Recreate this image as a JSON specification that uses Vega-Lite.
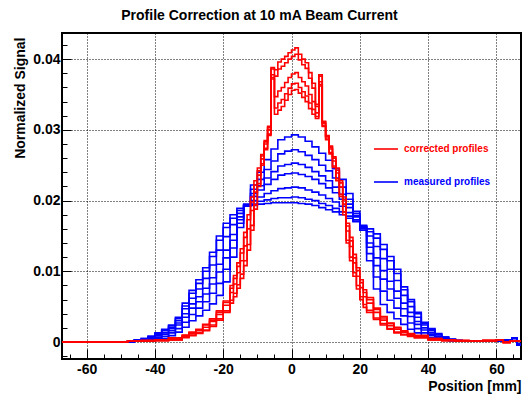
{
"$schema": "https://vega.github.io/schema/vega-lite/v6.json",
"width": 459, "height": 326,
"autosize": {"type": "none"},
"padding": {"left": 62, "top": 33, "right": 10, "bottom": 38},
"background": "white",
"config": {"view": {"stroke": "black", "strokeWidth": 2}, "font": "Liberation Sans"},
"title": {"text": "Profile Correction at 10 mA Beam Current", "font": "Liberation Sans", "fontSize": 14, "fontWeight": "bold", "color": "black", "anchor": "middle", "dx": -32, "dy": 15, "offset": 14, "baseline": "alphabetic"},
"datasets": {
"measured": [
{"s":"b1","x":-67.2,"y":0},{"s":"b1","x":-48,"y":0},{"s":"b1","x":-46,"y":0.0001},{"s":"b1","x":-44,"y":0.0001},{"s":"b1","x":-42,"y":0.0002},{"s":"b1","x":-40,"y":0.0003},{"s":"b1","x":-38,"y":0.0005},{"s":"b1","x":-36,"y":0.0009},{"s":"b1","x":-34,"y":0.0014},{"s":"b1","x":-32,"y":0.0021},{"s":"b1","x":-30,"y":0.003},{"s":"b1","x":-28,"y":0.0037},{"s":"b1","x":-26,"y":0.0045},{"s":"b1","x":-24,"y":0.0054},{"s":"b1","x":-22,"y":0.0066},{"s":"b1","x":-20,"y":0.0085},{"s":"b1","x":-18,"y":0.012},{"s":"b1","x":-16,"y":0.0162},{"s":"b1","x":-14,"y":0.0195},{"s":"b1","x":-12,"y":0.0222},{"s":"b1","x":-10,"y":0.024},{"s":"b1","x":-8,"y":0.0258},{"s":"b1","x":-6,"y":0.0273},{"s":"b1","x":-4,"y":0.0286},{"s":"b1","x":-2,"y":0.029},{"s":"b1","x":0,"y":0.0293},{"s":"b1","x":2,"y":0.029},{"s":"b1","x":4,"y":0.0284},{"s":"b1","x":6,"y":0.0276},{"s":"b1","x":8,"y":0.0267},{"s":"b1","x":10,"y":0.0257},{"s":"b1","x":12,"y":0.0245},{"s":"b1","x":14,"y":0.023},{"s":"b1","x":16,"y":0.021},{"s":"b1","x":18,"y":0.0185},{"s":"b1","x":20,"y":0.0158},{"s":"b1","x":22,"y":0.0115},{"s":"b1","x":24,"y":0.0075},{"s":"b1","x":26,"y":0.0053},{"s":"b1","x":28,"y":0.0042},{"s":"b1","x":30,"y":0.0033},{"s":"b1","x":32,"y":0.0025},{"s":"b1","x":34,"y":0.0018},{"s":"b1","x":36,"y":0.0013},{"s":"b1","x":38,"y":0.0009},{"s":"b1","x":40,"y":0.0006},{"s":"b1","x":42,"y":0.0004},{"s":"b1","x":44,"y":0.0003},{"s":"b1","x":46,"y":0.0002},{"s":"b1","x":48,"y":0.0001},{"s":"b1","x":50,"y":0.0001},{"s":"b1","x":56,"y":0.0001},{"s":"b1","x":60,"y":0.0002},{"s":"b1","x":62,"y":0.0003},{"s":"b1","x":64.5,"y":0.0005},{"s":"b1","x":66,"y":-0.0003},{"s":"b1","x":67.2,"y":-0.0003},
{"s":"b2","x":-67.2,"y":0},{"s":"b2","x":-48,"y":0},{"s":"b2","x":-46,"y":0.0001},{"s":"b2","x":-44,"y":0.0002},{"s":"b2","x":-42,"y":0.0003},{"s":"b2","x":-40,"y":0.0005},{"s":"b2","x":-38,"y":0.0008},{"s":"b2","x":-36,"y":0.0013},{"s":"b2","x":-34,"y":0.0019},{"s":"b2","x":-32,"y":0.0028},{"s":"b2","x":-30,"y":0.0039},{"s":"b2","x":-28,"y":0.0048},{"s":"b2","x":-26,"y":0.0057},{"s":"b2","x":-24,"y":0.0069},{"s":"b2","x":-22,"y":0.0083},{"s":"b2","x":-20,"y":0.0103},{"s":"b2","x":-18,"y":0.0133},{"s":"b2","x":-16,"y":0.0168},{"s":"b2","x":-14,"y":0.0194},{"s":"b2","x":-12,"y":0.0216},{"s":"b2","x":-10,"y":0.023},{"s":"b2","x":-8,"y":0.0244},{"s":"b2","x":-6,"y":0.0256},{"s":"b2","x":-4,"y":0.0266},{"s":"b2","x":-2,"y":0.027},{"s":"b2","x":0,"y":0.0272},{"s":"b2","x":2,"y":0.0269},{"s":"b2","x":4,"y":0.0264},{"s":"b2","x":6,"y":0.0258},{"s":"b2","x":8,"y":0.025},{"s":"b2","x":10,"y":0.0242},{"s":"b2","x":12,"y":0.0232},{"s":"b2","x":14,"y":0.0219},{"s":"b2","x":16,"y":0.0202},{"s":"b2","x":18,"y":0.0182},{"s":"b2","x":20,"y":0.016},{"s":"b2","x":22,"y":0.0125},{"s":"b2","x":24,"y":0.0092},{"s":"b2","x":26,"y":0.0072},{"s":"b2","x":28,"y":0.0059},{"s":"b2","x":30,"y":0.0048},{"s":"b2","x":32,"y":0.0037},{"s":"b2","x":34,"y":0.0027},{"s":"b2","x":36,"y":0.0019},{"s":"b2","x":38,"y":0.0013},{"s":"b2","x":40,"y":0.0009},{"s":"b2","x":42,"y":0.0006},{"s":"b2","x":44,"y":0.0004},{"s":"b2","x":46,"y":0.0002},{"s":"b2","x":48,"y":0.0001},{"s":"b2","x":50,"y":0.0001},{"s":"b2","x":56,"y":0.0001},{"s":"b2","x":60,"y":0.0002},{"s":"b2","x":62,"y":0.0003},{"s":"b2","x":64.5,"y":0.0005},{"s":"b2","x":66,"y":-0.0003},{"s":"b2","x":67.2,"y":-0.0003},
{"s":"b3","x":-67.2,"y":0},{"s":"b3","x":-48,"y":0},{"s":"b3","x":-46,"y":0.0002},{"s":"b3","x":-44,"y":0.0003},{"s":"b3","x":-42,"y":0.0005},{"s":"b3","x":-40,"y":0.0007},{"s":"b3","x":-38,"y":0.0011},{"s":"b3","x":-36,"y":0.0016},{"s":"b3","x":-34,"y":0.0024},{"s":"b3","x":-32,"y":0.0035},{"s":"b3","x":-30,"y":0.0048},{"s":"b3","x":-28,"y":0.0057},{"s":"b3","x":-26,"y":0.0068},{"s":"b3","x":-24,"y":0.0082},{"s":"b3","x":-22,"y":0.0099},{"s":"b3","x":-20,"y":0.0119},{"s":"b3","x":-18,"y":0.0144},{"s":"b3","x":-16,"y":0.0173},{"s":"b3","x":-14,"y":0.0194},{"s":"b3","x":-12,"y":0.021},{"s":"b3","x":-10,"y":0.0221},{"s":"b3","x":-8,"y":0.0232},{"s":"b3","x":-6,"y":0.0241},{"s":"b3","x":-4,"y":0.0249},{"s":"b3","x":-2,"y":0.0251},{"s":"b3","x":0,"y":0.0253},{"s":"b3","x":2,"y":0.0251},{"s":"b3","x":4,"y":0.0247},{"s":"b3","x":6,"y":0.0241},{"s":"b3","x":8,"y":0.0235},{"s":"b3","x":10,"y":0.0228},{"s":"b3","x":12,"y":0.0219},{"s":"b3","x":14,"y":0.0209},{"s":"b3","x":16,"y":0.0195},{"s":"b3","x":18,"y":0.0179},{"s":"b3","x":20,"y":0.0161},{"s":"b3","x":22,"y":0.0134},{"s":"b3","x":24,"y":0.0108},{"s":"b3","x":26,"y":0.0089},{"s":"b3","x":28,"y":0.0075},{"s":"b3","x":30,"y":0.0062},{"s":"b3","x":32,"y":0.0047},{"s":"b3","x":34,"y":0.0036},{"s":"b3","x":36,"y":0.0025},{"s":"b3","x":38,"y":0.0017},{"s":"b3","x":40,"y":0.0011},{"s":"b3","x":42,"y":0.0007},{"s":"b3","x":44,"y":0.0005},{"s":"b3","x":46,"y":0.0003},{"s":"b3","x":48,"y":0.0001},{"s":"b3","x":50,"y":0.0001},{"s":"b3","x":56,"y":0.0001},{"s":"b3","x":60,"y":0.0002},{"s":"b3","x":62,"y":0.0003},{"s":"b3","x":64.5,"y":0.0005},{"s":"b3","x":66,"y":-0.0003},{"s":"b3","x":67.2,"y":-0.0003},
{"s":"b4","x":-67.2,"y":0},{"s":"b4","x":-48,"y":0.0001},{"s":"b4","x":-46,"y":0.0002},{"s":"b4","x":-44,"y":0.0003},{"s":"b4","x":-42,"y":0.0005},{"s":"b4","x":-40,"y":0.0009},{"s":"b4","x":-38,"y":0.0013},{"s":"b4","x":-36,"y":0.0019},{"s":"b4","x":-34,"y":0.0027},{"s":"b4","x":-32,"y":0.004},{"s":"b4","x":-30,"y":0.0054},{"s":"b4","x":-28,"y":0.0064},{"s":"b4","x":-26,"y":0.0076},{"s":"b4","x":-24,"y":0.0091},{"s":"b4","x":-22,"y":0.011},{"s":"b4","x":-20,"y":0.013},{"s":"b4","x":-18,"y":0.0152},{"s":"b4","x":-16,"y":0.0177},{"s":"b4","x":-14,"y":0.0193},{"s":"b4","x":-12,"y":0.0206},{"s":"b4","x":-10,"y":0.0215},{"s":"b4","x":-8,"y":0.0223},{"s":"b4","x":-6,"y":0.023},{"s":"b4","x":-4,"y":0.0236},{"s":"b4","x":-2,"y":0.0238},{"s":"b4","x":0,"y":0.0239},{"s":"b4","x":2,"y":0.0237},{"s":"b4","x":4,"y":0.0234},{"s":"b4","x":6,"y":0.023},{"s":"b4","x":8,"y":0.0224},{"s":"b4","x":10,"y":0.0218},{"s":"b4","x":12,"y":0.0211},{"s":"b4","x":14,"y":0.0202},{"s":"b4","x":16,"y":0.019},{"s":"b4","x":18,"y":0.0177},{"s":"b4","x":20,"y":0.0162},{"s":"b4","x":22,"y":0.014},{"s":"b4","x":24,"y":0.0119},{"s":"b4","x":26,"y":0.0101},{"s":"b4","x":28,"y":0.0086},{"s":"b4","x":30,"y":0.0072},{"s":"b4","x":32,"y":0.0055},{"s":"b4","x":34,"y":0.0042},{"s":"b4","x":36,"y":0.0029},{"s":"b4","x":38,"y":0.002},{"s":"b4","x":40,"y":0.0013},{"s":"b4","x":42,"y":0.0008},{"s":"b4","x":44,"y":0.0005},{"s":"b4","x":46,"y":0.0003},{"s":"b4","x":48,"y":0.0002},{"s":"b4","x":50,"y":0.0001},{"s":"b4","x":56,"y":0.0001},{"s":"b4","x":60,"y":0.0002},{"s":"b4","x":62,"y":0.0003},{"s":"b4","x":64.5,"y":0.0006},{"s":"b4","x":66,"y":-0.0004},{"s":"b4","x":67.2,"y":-0.0004},
{"s":"b5","x":-67.2,"y":0},{"s":"b5","x":-48,"y":0.0001},{"s":"b5","x":-46,"y":0.0003},{"s":"b5","x":-44,"y":0.0004},{"s":"b5","x":-42,"y":0.0007},{"s":"b5","x":-40,"y":0.0011},{"s":"b5","x":-38,"y":0.0016},{"s":"b5","x":-36,"y":0.0021},{"s":"b5","x":-34,"y":0.003},{"s":"b5","x":-32,"y":0.0047},{"s":"b5","x":-30,"y":0.0062},{"s":"b5","x":-28,"y":0.0075},{"s":"b5","x":-26,"y":0.009},{"s":"b5","x":-24,"y":0.0109},{"s":"b5","x":-22,"y":0.013},{"s":"b5","x":-20,"y":0.0149},{"s":"b5","x":-18,"y":0.0166},{"s":"b5","x":-16,"y":0.0182},{"s":"b5","x":-14,"y":0.0193},{"s":"b5","x":-12,"y":0.02},{"s":"b5","x":-10,"y":0.0205},{"s":"b5","x":-8,"y":0.021},{"s":"b5","x":-6,"y":0.0214},{"s":"b5","x":-4,"y":0.0217},{"s":"b5","x":-2,"y":0.0218},{"s":"b5","x":0,"y":0.0219},{"s":"b5","x":2,"y":0.0218},{"s":"b5","x":4,"y":0.0215},{"s":"b5","x":6,"y":0.0212},{"s":"b5","x":8,"y":0.0208},{"s":"b5","x":10,"y":0.0203},{"s":"b5","x":12,"y":0.0198},{"s":"b5","x":14,"y":0.0192},{"s":"b5","x":16,"y":0.0183},{"s":"b5","x":18,"y":0.0173},{"s":"b5","x":20,"y":0.0163},{"s":"b5","x":22,"y":0.015},{"s":"b5","x":24,"y":0.0135},{"s":"b5","x":26,"y":0.0118},{"s":"b5","x":28,"y":0.0103},{"s":"b5","x":30,"y":0.0087},{"s":"b5","x":32,"y":0.0066},{"s":"b5","x":34,"y":0.005},{"s":"b5","x":36,"y":0.0035},{"s":"b5","x":38,"y":0.0024},{"s":"b5","x":40,"y":0.0016},{"s":"b5","x":42,"y":0.001},{"s":"b5","x":44,"y":0.0006},{"s":"b5","x":46,"y":0.0004},{"s":"b5","x":48,"y":0.0002},{"s":"b5","x":50,"y":0.0001},{"s":"b5","x":56,"y":0.0001},{"s":"b5","x":60,"y":0.0002},{"s":"b5","x":62,"y":0.0003},{"s":"b5","x":64.5,"y":0.0006},{"s":"b5","x":66,"y":-0.0004},{"s":"b5","x":67.2,"y":-0.0004},
{"s":"b6","x":-67.2,"y":0},{"s":"b6","x":-48,"y":0.0001},{"s":"b6","x":-46,"y":0.0003},{"s":"b6","x":-44,"y":0.0005},{"s":"b6","x":-42,"y":0.0008},{"s":"b6","x":-40,"y":0.0012},{"s":"b6","x":-38,"y":0.0017},{"s":"b6","x":-36,"y":0.0023},{"s":"b6","x":-34,"y":0.0033},{"s":"b6","x":-32,"y":0.0051},{"s":"b6","x":-30,"y":0.0069},{"s":"b6","x":-28,"y":0.0083},{"s":"b6","x":-26,"y":0.01},{"s":"b6","x":-24,"y":0.0121},{"s":"b6","x":-22,"y":0.0144},{"s":"b6","x":-20,"y":0.0162},{"s":"b6","x":-18,"y":0.0175},{"s":"b6","x":-16,"y":0.0186},{"s":"b6","x":-14,"y":0.0192},{"s":"b6","x":-12,"y":0.0195},{"s":"b6","x":-10,"y":0.0199},{"s":"b6","x":-8,"y":0.0201},{"s":"b6","x":-6,"y":0.0203},{"s":"b6","x":-4,"y":0.0204},{"s":"b6","x":-2,"y":0.0204},{"s":"b6","x":0,"y":0.0205},{"s":"b6","x":2,"y":0.0204},{"s":"b6","x":4,"y":0.0202},{"s":"b6","x":6,"y":0.02},{"s":"b6","x":8,"y":0.0196},{"s":"b6","x":10,"y":0.0193},{"s":"b6","x":12,"y":0.0189},{"s":"b6","x":14,"y":0.0184},{"s":"b6","x":16,"y":0.0178},{"s":"b6","x":18,"y":0.0171},{"s":"b6","x":20,"y":0.0164},{"s":"b6","x":22,"y":0.0156},{"s":"b6","x":24,"y":0.0147},{"s":"b6","x":26,"y":0.0131},{"s":"b6","x":28,"y":0.0115},{"s":"b6","x":30,"y":0.0097},{"s":"b6","x":32,"y":0.0074},{"s":"b6","x":34,"y":0.0057},{"s":"b6","x":36,"y":0.004},{"s":"b6","x":38,"y":0.0026},{"s":"b6","x":40,"y":0.0018},{"s":"b6","x":42,"y":0.0011},{"s":"b6","x":44,"y":0.0007},{"s":"b6","x":46,"y":0.0004},{"s":"b6","x":48,"y":0.0002},{"s":"b6","x":50,"y":0.0001},{"s":"b6","x":56,"y":0.0001},{"s":"b6","x":60,"y":0.0002},{"s":"b6","x":62,"y":0.0003},{"s":"b6","x":64.5,"y":0.0006},{"s":"b6","x":66,"y":-0.0004},{"s":"b6","x":67.2,"y":-0.0004},
{"s":"b7","x":-67.2,"y":0},{"s":"b7","x":-48,"y":0.0001},{"s":"b7","x":-46,"y":0.0003},{"s":"b7","x":-44,"y":0.0005},{"s":"b7","x":-42,"y":0.0008},{"s":"b7","x":-40,"y":0.0013},{"s":"b7","x":-38,"y":0.0018},{"s":"b7","x":-36,"y":0.0024},{"s":"b7","x":-34,"y":0.0035},{"s":"b7","x":-32,"y":0.0055},{"s":"b7","x":-30,"y":0.0073},{"s":"b7","x":-28,"y":0.0088},{"s":"b7","x":-26,"y":0.0105},{"s":"b7","x":-24,"y":0.0127},{"s":"b7","x":-22,"y":0.015},{"s":"b7","x":-20,"y":0.0168},{"s":"b7","x":-18,"y":0.018},{"s":"b7","x":-16,"y":0.0189},{"s":"b7","x":-14,"y":0.0192},{"s":"b7","x":-12,"y":0.0193},{"s":"b7","x":-10,"y":0.0195},{"s":"b7","x":-8,"y":0.0196},{"s":"b7","x":-6,"y":0.0197},{"s":"b7","x":-4,"y":0.0197},{"s":"b7","x":-2,"y":0.0197},{"s":"b7","x":0,"y":0.0197},{"s":"b7","x":2,"y":0.0196},{"s":"b7","x":4,"y":0.0195},{"s":"b7","x":6,"y":0.0193},{"s":"b7","x":8,"y":0.019},{"s":"b7","x":10,"y":0.0187},{"s":"b7","x":12,"y":0.0184},{"s":"b7","x":14,"y":0.018},{"s":"b7","x":16,"y":0.0175},{"s":"b7","x":18,"y":0.017},{"s":"b7","x":20,"y":0.0165},{"s":"b7","x":22,"y":0.016},{"s":"b7","x":24,"y":0.0153},{"s":"b7","x":26,"y":0.0138},{"s":"b7","x":28,"y":0.0121},{"s":"b7","x":30,"y":0.0103},{"s":"b7","x":32,"y":0.0078},{"s":"b7","x":34,"y":0.006},{"s":"b7","x":36,"y":0.0042},{"s":"b7","x":38,"y":0.0028},{"s":"b7","x":40,"y":0.0019},{"s":"b7","x":42,"y":0.0012},{"s":"b7","x":44,"y":0.0007},{"s":"b7","x":46,"y":0.0004},{"s":"b7","x":48,"y":0.0002},{"s":"b7","x":50,"y":0.0001},{"s":"b7","x":56,"y":0.0001},{"s":"b7","x":60,"y":0.0002},{"s":"b7","x":62,"y":0.0003},{"s":"b7","x":64.5,"y":0.0006},{"s":"b7","x":66,"y":-0.0004},{"s":"b7","x":67.2,"y":-0.0004}
],
"corrected": [
{"s":"r1","x":-67.2,"y":0},{"s":"r1","x":-48,"y":0.0001},{"s":"r1","x":-44,"y":0.0001},{"s":"r1","x":-40,"y":0.0002},{"s":"r1","x":-36,"y":0.0003},{"s":"r1","x":-32,"y":0.0006},{"s":"r1","x":-30,"y":0.0009},{"s":"r1","x":-28,"y":0.0012},{"s":"r1","x":-26,"y":0.0016},{"s":"r1","x":-24,"y":0.0022},{"s":"r1","x":-22,"y":0.0031},{"s":"r1","x":-20,"y":0.0042},{"s":"r1","x":-18,"y":0.0055},{"s":"r1","x":-17,"y":0.0064},{"s":"r1","x":-16,"y":0.0076},{"s":"r1","x":-15,"y":0.009},{"s":"r1","x":-14,"y":0.0108},{"s":"r1","x":-13,"y":0.013},{"s":"r1","x":-12,"y":0.0158},{"s":"r1","x":-11,"y":0.0188},{"s":"r1","x":-10,"y":0.022},{"s":"r1","x":-9,"y":0.025},{"s":"r1","x":-8,"y":0.0272},{"s":"r1","x":-7,"y":0.0292},{"s":"r1","x":-6,"y":0.0388},{"s":"r1","x":-5,"y":0.0385},{"s":"r1","x":-4,"y":0.0396},{"s":"r1","x":-3,"y":0.04},{"s":"r1","x":-2,"y":0.0404},{"s":"r1","x":-1,"y":0.0409},{"s":"r1","x":0,"y":0.0413},{"s":"r1","x":1,"y":0.0416},{"s":"r1","x":2,"y":0.0407},{"s":"r1","x":3,"y":0.04},{"s":"r1","x":4,"y":0.0395},{"s":"r1","x":5,"y":0.0381},{"s":"r1","x":6,"y":0.0366},{"s":"r1","x":7,"y":0.0336},{"s":"r1","x":8,"y":0.0378},{"s":"r1","x":9,"y":0.0305},{"s":"r1","x":10,"y":0.0286},{"s":"r1","x":11,"y":0.0266},{"s":"r1","x":12,"y":0.0247},{"s":"r1","x":13,"y":0.0228},{"s":"r1","x":14,"y":0.0206},{"s":"r1","x":15,"y":0.018},{"s":"r1","x":16,"y":0.014},{"s":"r1","x":17,"y":0.0115},{"s":"r1","x":18,"y":0.0093},{"s":"r1","x":19,"y":0.0075},{"s":"r1","x":20,"y":0.006},{"s":"r1","x":21,"y":0.0049},{"s":"r1","x":22,"y":0.0042},{"s":"r1","x":24,"y":0.0032},{"s":"r1","x":26,"y":0.0024},{"s":"r1","x":28,"y":0.0018},{"s":"r1","x":30,"y":0.0013},{"s":"r1","x":32,"y":0.001},{"s":"r1","x":34,"y":0.0008},{"s":"r1","x":36,"y":0.0006},{"s":"r1","x":40,"y":0.0003},{"s":"r1","x":44,"y":0.0002},{"s":"r1","x":48,"y":0.0001},{"s":"r1","x":52,"y":0.0001},{"s":"r1","x":56,"y":0.0002},{"s":"r1","x":60,"y":0.0003},{"s":"r1","x":62,"y":-0.0001},{"s":"r1","x":64,"y":0.0001},{"s":"r1","x":67.2,"y":0.0001},
{"s":"r2","x":-67.2,"y":0},{"s":"r2","x":-48,"y":0.0001},{"s":"r2","x":-44,"y":0.0001},{"s":"r2","x":-40,"y":0.0002},{"s":"r2","x":-36,"y":0.0003},{"s":"r2","x":-32,"y":0.0007},{"s":"r2","x":-30,"y":0.001},{"s":"r2","x":-28,"y":0.0013},{"s":"r2","x":-26,"y":0.0017},{"s":"r2","x":-24,"y":0.0024},{"s":"r2","x":-22,"y":0.0033},{"s":"r2","x":-20,"y":0.0044},{"s":"r2","x":-18,"y":0.0059},{"s":"r2","x":-17,"y":0.0069},{"s":"r2","x":-16,"y":0.0081},{"s":"r2","x":-15,"y":0.0096},{"s":"r2","x":-14,"y":0.0115},{"s":"r2","x":-13,"y":0.0138},{"s":"r2","x":-12,"y":0.0165},{"s":"r2","x":-11,"y":0.0194},{"s":"r2","x":-10,"y":0.0224},{"s":"r2","x":-9,"y":0.0252},{"s":"r2","x":-8,"y":0.0274},{"s":"r2","x":-7,"y":0.0294},{"s":"r2","x":-6,"y":0.0386},{"s":"r2","x":-5,"y":0.0376},{"s":"r2","x":-4,"y":0.0386},{"s":"r2","x":-3,"y":0.039},{"s":"r2","x":-2,"y":0.0395},{"s":"r2","x":-1,"y":0.04},{"s":"r2","x":0,"y":0.0404},{"s":"r2","x":1,"y":0.0407},{"s":"r2","x":2,"y":0.0399},{"s":"r2","x":3,"y":0.0392},{"s":"r2","x":4,"y":0.0387},{"s":"r2","x":5,"y":0.0373},{"s":"r2","x":6,"y":0.0359},{"s":"r2","x":7,"y":0.0333},{"s":"r2","x":8,"y":0.0376},{"s":"r2","x":9,"y":0.0306},{"s":"r2","x":10,"y":0.0287},{"s":"r2","x":11,"y":0.0268},{"s":"r2","x":12,"y":0.0249},{"s":"r2","x":13,"y":0.0231},{"s":"r2","x":14,"y":0.0209},{"s":"r2","x":15,"y":0.0184},{"s":"r2","x":16,"y":0.0144},{"s":"r2","x":17,"y":0.012},{"s":"r2","x":18,"y":0.0098},{"s":"r2","x":19,"y":0.008},{"s":"r2","x":20,"y":0.0064},{"s":"r2","x":21,"y":0.0053},{"s":"r2","x":22,"y":0.0045},{"s":"r2","x":24,"y":0.0034},{"s":"r2","x":26,"y":0.0026},{"s":"r2","x":28,"y":0.0019},{"s":"r2","x":30,"y":0.0014},{"s":"r2","x":32,"y":0.0011},{"s":"r2","x":34,"y":0.0009},{"s":"r2","x":36,"y":0.0006},{"s":"r2","x":40,"y":0.0003},{"s":"r2","x":44,"y":0.0002},{"s":"r2","x":48,"y":0.0001},{"s":"r2","x":52,"y":0.0001},{"s":"r2","x":56,"y":0.0002},{"s":"r2","x":60,"y":0.0003},{"s":"r2","x":62,"y":-0.0001},{"s":"r2","x":64,"y":0.0001},{"s":"r2","x":67.2,"y":0.0001},
{"s":"r3","x":-67.2,"y":0},{"s":"r3","x":-48,"y":0.0001},{"s":"r3","x":-44,"y":0.0002},{"s":"r3","x":-40,"y":0.0003},{"s":"r3","x":-36,"y":0.0005},{"s":"r3","x":-32,"y":0.0008},{"s":"r3","x":-30,"y":0.0012},{"s":"r3","x":-28,"y":0.0016},{"s":"r3","x":-26,"y":0.0021},{"s":"r3","x":-24,"y":0.0029},{"s":"r3","x":-22,"y":0.0039},{"s":"r3","x":-20,"y":0.0052},{"s":"r3","x":-18,"y":0.007},{"s":"r3","x":-17,"y":0.0082},{"s":"r3","x":-16,"y":0.0098},{"s":"r3","x":-15,"y":0.0115},{"s":"r3","x":-14,"y":0.0136},{"s":"r3","x":-13,"y":0.016},{"s":"r3","x":-12,"y":0.0186},{"s":"r3","x":-11,"y":0.0212},{"s":"r3","x":-10,"y":0.0236},{"s":"r3","x":-9,"y":0.0259},{"s":"r3","x":-8,"y":0.028},{"s":"r3","x":-7,"y":0.03},{"s":"r3","x":-6,"y":0.0378},{"s":"r3","x":-5,"y":0.0347},{"s":"r3","x":-4,"y":0.0355},{"s":"r3","x":-3,"y":0.036},{"s":"r3","x":-2,"y":0.0367},{"s":"r3","x":-1,"y":0.0374},{"s":"r3","x":0,"y":0.0379},{"s":"r3","x":1,"y":0.0381},{"s":"r3","x":2,"y":0.0374},{"s":"r3","x":3,"y":0.0368},{"s":"r3","x":4,"y":0.0362},{"s":"r3","x":5,"y":0.035},{"s":"r3","x":6,"y":0.034},{"s":"r3","x":7,"y":0.0324},{"s":"r3","x":8,"y":0.0368},{"s":"r3","x":9,"y":0.0309},{"s":"r3","x":10,"y":0.029},{"s":"r3","x":11,"y":0.0273},{"s":"r3","x":12,"y":0.0256},{"s":"r3","x":13,"y":0.0239},{"s":"r3","x":14,"y":0.0219},{"s":"r3","x":15,"y":0.0195},{"s":"r3","x":16,"y":0.0157},{"s":"r3","x":17,"y":0.0135},{"s":"r3","x":18,"y":0.0112},{"s":"r3","x":19,"y":0.0093},{"s":"r3","x":20,"y":0.0077},{"s":"r3","x":21,"y":0.0064},{"s":"r3","x":22,"y":0.0055},{"s":"r3","x":24,"y":0.0042},{"s":"r3","x":26,"y":0.0031},{"s":"r3","x":28,"y":0.0023},{"s":"r3","x":30,"y":0.0018},{"s":"r3","x":32,"y":0.0014},{"s":"r3","x":34,"y":0.001},{"s":"r3","x":36,"y":0.0008},{"s":"r3","x":40,"y":0.0004},{"s":"r3","x":44,"y":0.0003},{"s":"r3","x":48,"y":0.0002},{"s":"r3","x":52,"y":0.0001},{"s":"r3","x":56,"y":0.0002},{"s":"r3","x":60,"y":0.0003},{"s":"r3","x":62,"y":0},{"s":"r3","x":64,"y":0.0001},{"s":"r3","x":67.2,"y":0.0001},
{"s":"r4","x":-67.2,"y":0},{"s":"r4","x":-48,"y":0.0001},{"s":"r4","x":-44,"y":0.0002},{"s":"r4","x":-40,"y":0.0003},{"s":"r4","x":-36,"y":0.0006},{"s":"r4","x":-32,"y":0.0009},{"s":"r4","x":-30,"y":0.0013},{"s":"r4","x":-28,"y":0.0017},{"s":"r4","x":-26,"y":0.0024},{"s":"r4","x":-24,"y":0.0031},{"s":"r4","x":-22,"y":0.0042},{"s":"r4","x":-20,"y":0.0056},{"s":"r4","x":-18,"y":0.0076},{"s":"r4","x":-17,"y":0.009},{"s":"r4","x":-16,"y":0.0107},{"s":"r4","x":-15,"y":0.0126},{"s":"r4","x":-14,"y":0.0148},{"s":"r4","x":-13,"y":0.0173},{"s":"r4","x":-12,"y":0.0198},{"s":"r4","x":-11,"y":0.0222},{"s":"r4","x":-10,"y":0.0242},{"s":"r4","x":-9,"y":0.0263},{"s":"r4","x":-8,"y":0.0283},{"s":"r4","x":-7,"y":0.0303},{"s":"r4","x":-6,"y":0.0374},{"s":"r4","x":-5,"y":0.0331},{"s":"r4","x":-4,"y":0.0338},{"s":"r4","x":-3,"y":0.0343},{"s":"r4","x":-2,"y":0.0351},{"s":"r4","x":-1,"y":0.0359},{"s":"r4","x":0,"y":0.0365},{"s":"r4","x":1,"y":0.0366},{"s":"r4","x":2,"y":0.036},{"s":"r4","x":3,"y":0.0354},{"s":"r4","x":4,"y":0.0348},{"s":"r4","x":5,"y":0.0338},{"s":"r4","x":6,"y":0.0329},{"s":"r4","x":7,"y":0.0319},{"s":"r4","x":8,"y":0.0364},{"s":"r4","x":9,"y":0.0311},{"s":"r4","x":10,"y":0.0291},{"s":"r4","x":11,"y":0.0275},{"s":"r4","x":12,"y":0.026},{"s":"r4","x":13,"y":0.0243},{"s":"r4","x":14,"y":0.0225},{"s":"r4","x":15,"y":0.0201},{"s":"r4","x":16,"y":0.0164},{"s":"r4","x":17,"y":0.0143},{"s":"r4","x":18,"y":0.0119},{"s":"r4","x":19,"y":0.0101},{"s":"r4","x":20,"y":0.0084},{"s":"r4","x":21,"y":0.007},{"s":"r4","x":22,"y":0.006},{"s":"r4","x":24,"y":0.0046},{"s":"r4","x":26,"y":0.0034},{"s":"r4","x":28,"y":0.0026},{"s":"r4","x":30,"y":0.002},{"s":"r4","x":32,"y":0.0015},{"s":"r4","x":34,"y":0.0011},{"s":"r4","x":36,"y":0.0009},{"s":"r4","x":40,"y":0.0005},{"s":"r4","x":44,"y":0.0003},{"s":"r4","x":48,"y":0.0002},{"s":"r4","x":52,"y":0.0001},{"s":"r4","x":56,"y":0.0002},{"s":"r4","x":60,"y":0.0003},{"s":"r4","x":62,"y":0},{"s":"r4","x":64,"y":0.0001},{"s":"r4","x":67.2,"y":0.0001},
{"s":"r5","x":-67.2,"y":0},{"s":"r5","x":-48,"y":0.0001},{"s":"r5","x":-44,"y":0.0002},{"s":"r5","x":-40,"y":0.0003},{"s":"r5","x":-36,"y":0.0006},{"s":"r5","x":-32,"y":0.001},{"s":"r5","x":-30,"y":0.0014},{"s":"r5","x":-28,"y":0.0018},{"s":"r5","x":-26,"y":0.0025},{"s":"r5","x":-24,"y":0.0033},{"s":"r5","x":-22,"y":0.0044},{"s":"r5","x":-20,"y":0.0058},{"s":"r5","x":-18,"y":0.008},{"s":"r5","x":-17,"y":0.0094},{"s":"r5","x":-16,"y":0.0112},{"s":"r5","x":-15,"y":0.0132},{"s":"r5","x":-14,"y":0.0155},{"s":"r5","x":-13,"y":0.018},{"s":"r5","x":-12,"y":0.0205},{"s":"r5","x":-11,"y":0.0228},{"s":"r5","x":-10,"y":0.0246},{"s":"r5","x":-9,"y":0.0265},{"s":"r5","x":-8,"y":0.0285},{"s":"r5","x":-7,"y":0.0305},{"s":"r5","x":-6,"y":0.0372},{"s":"r5","x":-5,"y":0.0322},{"s":"r5","x":-4,"y":0.0328},{"s":"r5","x":-3,"y":0.0333},{"s":"r5","x":-2,"y":0.0342},{"s":"r5","x":-1,"y":0.035},{"s":"r5","x":0,"y":0.0356},{"s":"r5","x":1,"y":0.0357},{"s":"r5","x":2,"y":0.0352},{"s":"r5","x":3,"y":0.0346},{"s":"r5","x":4,"y":0.034},{"s":"r5","x":5,"y":0.033},{"s":"r5","x":6,"y":0.0322},{"s":"r5","x":7,"y":0.0316},{"s":"r5","x":8,"y":0.0362},{"s":"r5","x":9,"y":0.0312},{"s":"r5","x":10,"y":0.0292},{"s":"r5","x":11,"y":0.0277},{"s":"r5","x":12,"y":0.0262},{"s":"r5","x":13,"y":0.0246},{"s":"r5","x":14,"y":0.0228},{"s":"r5","x":15,"y":0.0205},{"s":"r5","x":16,"y":0.0168},{"s":"r5","x":17,"y":0.0148},{"s":"r5","x":18,"y":0.0124},{"s":"r5","x":19,"y":0.0105},{"s":"r5","x":20,"y":0.0088},{"s":"r5","x":21,"y":0.0074},{"s":"r5","x":22,"y":0.0063},{"s":"r5","x":24,"y":0.0048},{"s":"r5","x":26,"y":0.0036},{"s":"r5","x":28,"y":0.0027},{"s":"r5","x":30,"y":0.0021},{"s":"r5","x":32,"y":0.0016},{"s":"r5","x":34,"y":0.0012},{"s":"r5","x":36,"y":0.0009},{"s":"r5","x":40,"y":0.0005},{"s":"r5","x":44,"y":0.0003},{"s":"r5","x":48,"y":0.0002},{"s":"r5","x":52,"y":0.0001},{"s":"r5","x":56,"y":0.0002},{"s":"r5","x":60,"y":0.0003},{"s":"r5","x":62,"y":0},{"s":"r5","x":64,"y":0.0001},{"s":"r5","x":67.2,"y":0.0001}
]
},
"layer": [
{
"data": {"name": "measured"},
"mark": {"type": "line", "interpolate": "step-after", "strokeWidth": 1.6},
"encoding": {
"x": {"field": "x", "type": "quantitative", "scale": {"domain": [-67.2, 67.2], "nice": false, "zero": false},
 "axis": {"values": [-65,-60,-55,-50,-45,-40,-35,-30,-25,-20,-15,-10,-5,0,5,10,15,20,25,30,35,40,45,50,55,60,65], "tickCount": 200,
  "title": "Position [mm]", "titleAnchor": "end", "titleAlign": "right", "titleX": 459, "titleY": 31, "titleBaseline": "alphabetic",
  "titleFont": "Liberation Sans", "titleFontSize": 14, "titleFontWeight": "bold", "titleColor": "black",
  "labelExpr": "datum.value % 20 === 0 ? '' + datum.value : ''",
  "labelFont": "Liberation Sans", "labelFontSize": 14, "labelFontWeight": "bold", "labelColor": "black",
  "labelPadding": 13, "labelBaseline": "top", "labelFlush": false, "labelOverlap": false,
  "domain": false, "ticks": true, "tickColor": "black", "tickWidth": 1,
  "tickSize": {"condition": {"test": "datum.value % 20 === 0", "value": -10}, "value": -5},
  "grid": true, "gridColor": "black", "gridDash": [1, 2], "gridWidth": 1,
  "gridOpacity": {"condition": {"test": "datum.value % 20 === 0", "value": 1}, "value": 0}}},
"y": {"field": "y", "type": "quantitative", "scale": {"domain": [-0.0024, 0.0437], "nice": false, "zero": false},
 "axis": {"values": [-0.002,0,0.002,0.004,0.006,0.008,0.01,0.012,0.014,0.016,0.018,0.02,0.022,0.024,0.026,0.028,0.03,0.032,0.034,0.036,0.038,0.04,0.042], "tickCount": 200,
  "title": "Normalized Signal", "titleAngle": -90, "titleAlign": "right", "titleX": -38, "titleY": 4, "titleBaseline": "alphabetic",
  "titleFont": "Liberation Sans", "titleFontSize": 14, "titleFontWeight": "bold", "titleColor": "black",
  "labelExpr": "indexof([0,0.01,0.02,0.03,0.04], datum.value) >= 0 ? '' + datum.value : ''",
  "labelFont": "Liberation Sans", "labelFontSize": 14, "labelFontWeight": "bold", "labelColor": "black",
  "labelPadding": 11, "labelBaseline": "middle", "labelFlush": false, "labelOverlap": false,
  "domain": false, "ticks": true, "tickColor": "black", "tickWidth": 1,
  "tickSize": {"condition": {"test": "indexof([0,0.01,0.02,0.03,0.04], datum.value) >= 0", "value": -9}, "value": -5},
  "grid": true, "gridColor": "black", "gridDash": [1, 2], "gridWidth": 1,
  "gridOpacity": {"condition": {"test": "indexof([0,0.01,0.02,0.03,0.04], datum.value) >= 0", "value": 1}, "value": 0}}},
"detail": {"field": "s", "type": "nominal"},
"color": {"datum": "measured profiles", "type": "nominal",
 "scale": {"domain": ["corrected profiles", "measured profiles"], "range": ["#ff0000", "#0000ff"]},
 "legend": {"title": null, "orient": "none", "legendX": 311, "legendY": 103, "padding": 0,
  "symbolType": "stroke", "symbolSize": 576, "symbolStrokeWidth": 1.6, "rowPadding": 15,
  "labelFont": "Liberation Sans", "labelFontSize": 10, "labelFontWeight": "bold", "labelOffset": 5,
  "encode": {"labels": {"update": {"fill": {"signal": "datum.value === 'corrected profiles' ? '#ff0000' : '#0000ff'"}}}}}}
}
},
{
"data": {"name": "corrected"},
"mark": {"type": "line", "interpolate": "step-after", "strokeWidth": 1.6},
"encoding": {
"x": {"field": "x", "type": "quantitative"},
"y": {"field": "y", "type": "quantitative"},
"detail": {"field": "s", "type": "nominal"},
"color": {"datum": "corrected profiles", "type": "nominal"}
}
}
]
}
